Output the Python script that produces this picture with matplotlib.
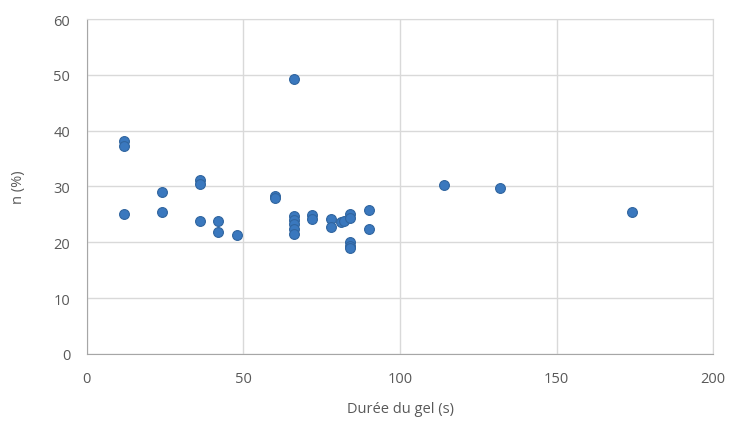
import matplotlib.pyplot as plt

# durée du gel (s) et n (%)
duree = [12, 12, 12, 24, 24, 36, 36, 36, 42, 42, 48, 60, 60,
         66, 66, 66, 66, 66, 66, 72, 72, 78, 78, 81, 82, 84, 84, 84, 84, 84,
         90, 90, 114, 132, 174]
n_pct = [38.2, 37.2, 25.0, 29.0, 25.4, 31.2, 30.5, 23.8, 23.8, 21.9, 21.3, 28.3, 28.0,
         49.3, 24.8, 24.0, 23.2, 22.3, 21.4, 24.9, 24.1, 24.1, 22.7, 23.7, 23.9, 25.0, 24.3,
         20.1, 19.4, 18.9,
         25.8, 22.4, 30.3, 29.7, 25.4]

plt.rcParams['font.family'] = ['Open Sans', 'DejaVu Sans']

fig = plt.figure(figsize=(7.3, 4.35), dpi=100)
ax = fig.add_axes([0.119, 0.184, 0.858, 0.770])

ax.scatter(duree, n_pct, s=50, color='#3a78be', edgecolors='#30659f',
           linewidths=0.8, zorder=3)

ax.set_xlim(0, 200)
ax.set_ylim(0, 60)
ax.set_xticks([0, 50, 100, 150, 200])
ax.set_yticks(range(0, 61, 10))
ax.grid(True, color='#d9d9d9', linewidth=1.0)
ax.set_axisbelow(True)
for side in ['top', 'right']:
    ax.spines[side].set_color('#d9d9d9')
for side in ['left', 'bottom']:
    ax.spines[side].set_color('#a6a6a6')
ax.tick_params(length=0, colors='#595959', labelsize=10.5, pad=12)

ax.set_xlabel('Durée du gel (s)', fontsize=10.5, color='#595959', labelpad=11)
ax.set_ylabel('n (%)', fontsize=10.5, color='#595959', labelpad=20)

fig.savefig('out.png', dpi=100, facecolor='white')
